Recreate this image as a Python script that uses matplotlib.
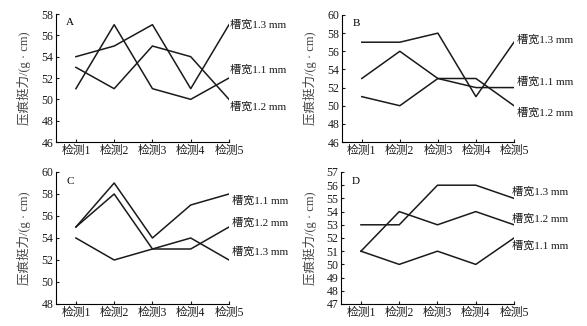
import matplotlib
matplotlib.use('Agg')
import matplotlib.pyplot as plt

plt.rcParams['font.family'] = ['Liberation Serif', 'Noto Sans CJK SC']
plt.rcParams['font.size'] = 8

xLabels = ['检测1', '检测2', '检测3', '检测4', '检测5']
seriesNames = ['槽宽1.1 mm', '槽宽1.2 mm', '槽宽1.3 mm']

# panel A
aVals = {'槽宽1.1 mm': [51, 57, 51, 50, 52],
         '槽宽1.2 mm': [53, 51, 55, 54, 50],
         '槽宽1.3 mm': [54, 55, 57, 51, 57]}
# panel B
bVals = {'槽宽1.1 mm': [53, 56, 53, 52, 52],
         '槽宽1.2 mm': [51, 50, 53, 53, 50],
         '槽宽1.3 mm': [57, 57, 58, 51, 57]}
# panel C
cVals = {'槽宽1.1 mm': [55, 59, 54, 57, 58],
         '槽宽1.2 mm': [55, 58, 53, 53, 55],
         '槽宽1.3 mm': [54, 52, 53, 54, 52]}
# panel D
dVals = {'槽宽1.1 mm': [51, 50, 51, 50, 52],
         '槽宽1.2 mm': [51, 54, 53, 54, 53],
         '槽宽1.3 mm': [53, 53, 56, 56, 55]}

# label y positions (data units) for the series names at the right
aLabelY = {'槽宽1.1 mm': 52.8, '槽宽1.2 mm': 49.3, '槽宽1.3 mm': 57.0}
bLabelY = {'槽宽1.1 mm': 52.7, '槽宽1.2 mm': 49.2, '槽宽1.3 mm': 57.3}
cLabelY = {'槽宽1.1 mm': 57.45, '槽宽1.2 mm': 55.45, '槽宽1.3 mm': 52.8}
dLabelY = {'槽宽1.1 mm': 51.4, '槽宽1.2 mm': 53.5, '槽宽1.3 mm': 55.5}

panels = [
    ('A', aVals, aLabelY, (46, 58), list(range(46, 59, 2)), [0.0954, 0.5644, 0.2947, 0.3926], 1.005),
    ('B', bVals, bLabelY, (46, 60), list(range(46, 61, 2)), [0.5826, 0.5644, 0.2930, 0.3896], 1.02),
    ('C', cVals, cLabelY, (48, 60), list(range(48, 61, 2)), [0.0954, 0.0675, 0.2947, 0.4049], 1.02),
    ('D', dVals, dLabelY, (47, 57), list(range(47, 58, 1)), [0.5810, 0.0675, 0.2947, 0.4049], 0.99),
]

fig = plt.figure(figsize=(5.87, 3.26), dpi=100)
xs = list(range(1, 6))

for letter, vals, labelY, ylim, yticks, pos, labelX in panels:
    ax = fig.add_axes(pos)
    for name in seriesNames:
        ax.plot(xs, vals[name], color='#1a1a1a', linewidth=1.1)
        ax.text(labelX, labelY[name], name, transform=ax.get_yaxis_transform(),
                va='center', ha='left', fontsize=8, color='#1a1a1a')
    ax.set_xlim(0.48, 5)
    ax.set_ylim(*ylim)
    ax.set_yticks(yticks)
    ax.set_xticks(xs)
    ax.set_xticklabels(xLabels)
    ax.spines['top'].set_visible(False)
    ax.spines['right'].set_visible(False)
    ax.spines['left'].set_linewidth(0.8)
    ax.spines['bottom'].set_linewidth(0.8)
    ax.tick_params(direction='in', length=2.5, width=0.8, labelsize=8.5, colors='#1a1a1a', pad=2)
    ax.set_ylabel('压痕挺力/(g · cm)', fontsize=9, color='#444444', labelpad=7)
    ax.text(0.06, 0.93, letter, transform=ax.transAxes, fontsize=8, va='center', ha='left')

fig.savefig('out.png', dpi=100)
